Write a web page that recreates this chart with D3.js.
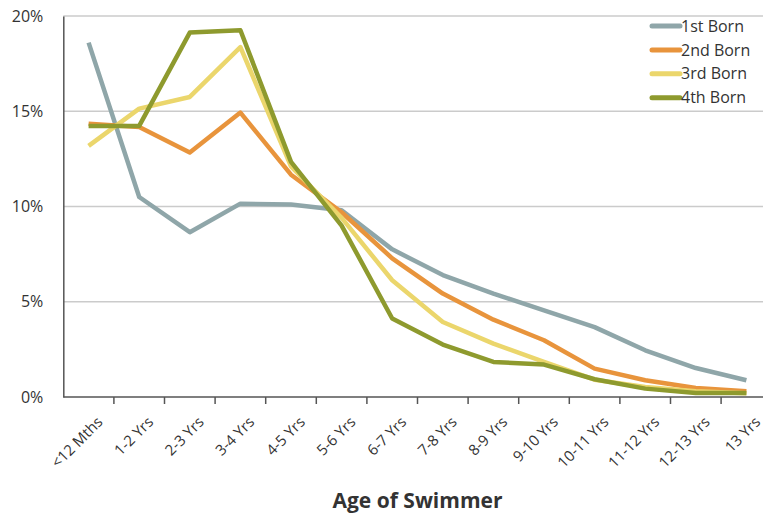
<!DOCTYPE html>
<html>
<head>
<meta charset="utf-8">
<script src="https://cdn.jsdelivr.net/npm/d3@7"></script>
<style>
  body { margin: 0; background: #fff; }
  svg { display: block; font-family: "Open Sans", sans-serif; }
</style>
</head>
<body>
<svg id="chart" width="763" height="518"></svg>
<script>
// categories and series (percent of swimmers)
var ages = ["<12 Mths", "1-2 Yrs", "2-3 Yrs", "3-4 Yrs", "4-5 Yrs", "5-6 Yrs", "6-7 Yrs",
  "7-8 Yrs", "8-9 Yrs", "9-10 Yrs", "10-11 Yrs", "11-12 Yrs", "12-13 Yrs", "13 Yrs"];
var firstBorn  = [18.6, 10.5, 8.65, 10.15, 10.1, 9.8, 7.75, 6.4, 5.43, 4.55, 3.67, 2.45, 1.52, 0.88];
var secondBorn = [14.35, 14.17, 12.83, 14.93, 11.67, 9.7, 7.28, 5.43, 4.06, 2.98, 1.49, 0.88, 0.47, 0.3];
var thirdBorn  = [13.18, 15.14, 15.75, 18.37, 12.1, 9.4, 6.13, 3.94, 2.8, 1.84, 0.91, 0.52, 0.3, 0.2];
var fourthBorn = [14.23, 14.23, 19.13, 19.25, 12.34, 9.0, 4.12, 2.75, 1.84, 1.7, 0.93, 0.44, 0.21, 0.21];
var seriesNames = ["1st Born", "2nd Born", "3rd Born", "4th Born"];
var seriesColors = ["#8fa6a9", "#e8943c", "#ebd66c", "#8e9a2e"];
var yTicks = [0, 5, 10, 15, 20];

var series = [firstBorn, secondBorn, thirdBorn, fourthBorn].map(function(v, i) {
  return { name: seriesNames[i], color: seriesColors[i], values: v };
});

var svg = d3.select("#chart"),
  margin = {top: 16, left: 63.3, bottom: 397},
  plotRight = 771.7;

var x = d3.scaleBand().domain(ages).range([margin.left, plotRight]);
var y = d3.scaleLinear().domain([0, 20]).range([margin.bottom, margin.top]);

// gridlines
svg.append("g")
  .selectAll("line")
  .data(yTicks.slice(1))
  .enter().append("line")
  .attr("x1", margin.left).attr("x2", 763)
  .attr("y1", function(d) { return y(d); })
  .attr("y2", function(d) { return y(d); })
  .attr("stroke", "#cbcbcb")
  .attr("stroke-width", 1.5);

// y axis
var yAxis = svg.append("g")
  .attr("transform", "translate(" + margin.left + ",0)")
  .call(d3.axisLeft(y).tickValues(yTicks).tickFormat(function(d) { return d + "%"; })
    .tickSize(0).tickPadding(20));
yAxis.select(".domain").attr("stroke", "#555").attr("stroke-width", 1.5);
yAxis.selectAll("text").attr("font-size", "16px").attr("fill", "#333")
  .attr("font-family", "Open Sans, sans-serif");

// x axis: ticks on band edges
var xAxis = svg.append("g")
  .attr("transform", "translate(0," + margin.bottom + ")");
xAxis.append("line")
  .attr("x1", margin.left).attr("x2", plotRight)
  .attr("stroke", "#555").attr("stroke-width", 1.5);
xAxis.selectAll(".tick")
  .data(ages)
  .enter().append("line")
  .attr("x1", function(d) { return x(d) + x.bandwidth(); })
  .attr("x2", function(d) { return x(d) + x.bandwidth(); })
  .attr("y1", 0).attr("y2", 7)
  .attr("stroke", "#555").attr("stroke-width", 1.5);
xAxis.selectAll(".label")
  .data(ages)
  .enter().append("text")
  .attr("text-anchor", "end")
  .attr("font-size", "15px")
  .attr("fill", "#333")
  .attr("transform", function(d) {
    return "translate(" + (x(d) + x.bandwidth() / 2 + 15) + ",26) rotate(-45)";
  })
  .text(function(d) { return d; });

// lines
var line = d3.line()
  .x(function(d, i) { return x(ages[i]) + x.bandwidth() / 2; })
  .y(function(d) { return y(d); });

svg.append("g")
  .selectAll("path")
  .data(series)
  .enter().append("path")
  .attr("fill", "none")
  .attr("stroke", function(d) { return d.color; })
  .attr("stroke-width", 4.5)
  .attr("stroke-linejoin", "round")
  .attr("d", function(d) { return line(d.values); });

// legend
var legend = svg.selectAll(".legend")
  .data(series)
  .enter().append("g")
  .attr("class", "legend")
  .attr("transform", function(d, i) { return "translate(652," + (26 + i * 23.9) + ")"; });

legend.append("line")
  .attr("x1", 0).attr("x2", 28)
  .attr("stroke", function(d) { return d.color; })
  .attr("stroke-width", 5)
  .attr("stroke-linecap", "round");

legend.append("text")
  .attr("x", 29)
  .attr("dy", "0.35em")
  .attr("font-size", "16px")
  .attr("fill", "#333")
  .text(function(d) { return d.name; });

// axis title
svg.append("text")
  .attr("x", (margin.left + plotRight) / 2)
  .attr("y", 508)
  .attr("text-anchor", "middle")
  .attr("font-size", "21px")
  .attr("font-weight", "bold")
  .attr("fill", "#333")
  .text("Age of Swimmer");
</script>
</body>
</html>
